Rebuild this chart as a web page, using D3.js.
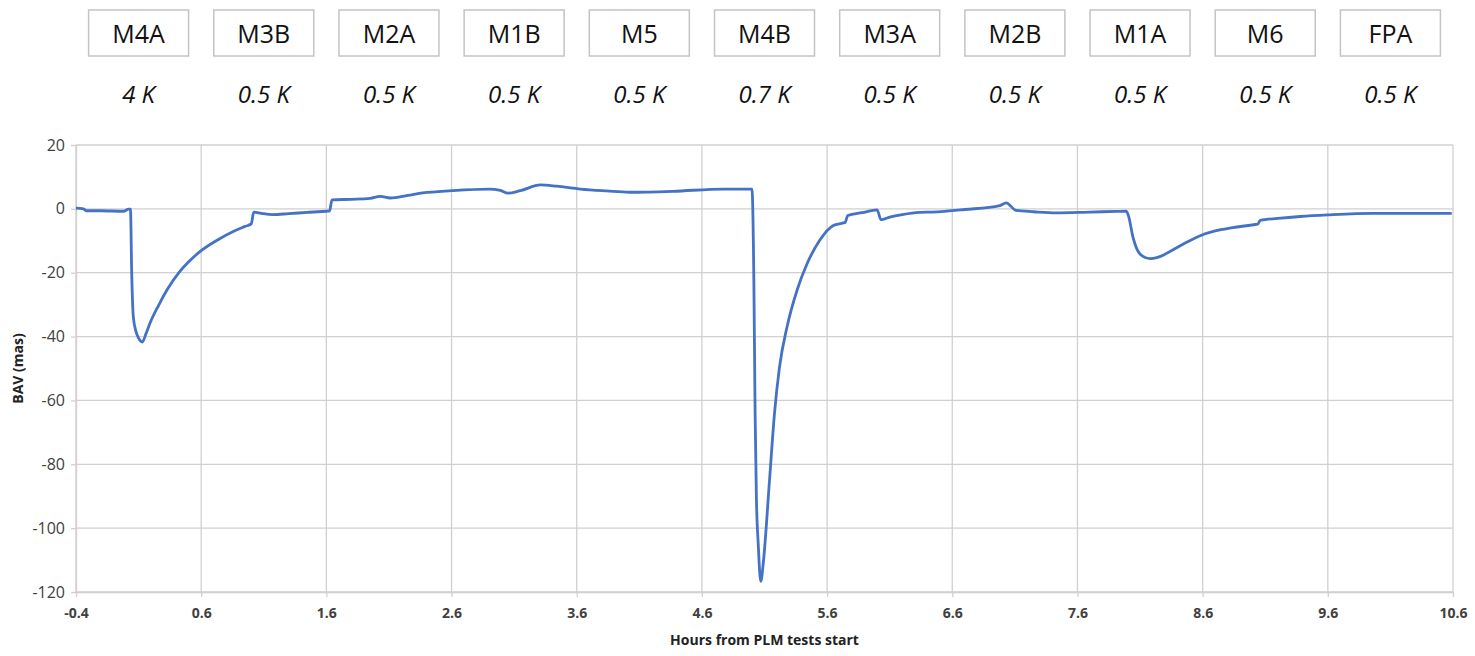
<!DOCTYPE html>
<html>
<head>
<meta charset="utf-8">
<script src="https://cdn.jsdelivr.net/npm/d3@7"></script>
<style>
  html, body { margin: 0; padding: 0; background: #ffffff; }
  svg { display: block; }
</style>
</head>
<body>
<svg id="chart" width="1475" height="656"></svg>
<script>
// ---- data ----
const testNames = ["M4A", "M3B", "M2A", "M1B", "M5", "M4B", "M3A", "M2B", "M1A", "M6", "FPA"];
const testTemps = ["4 K", "0.5 K", "0.5 K", "0.5 K", "0.5 K", "0.7 K", "0.5 K", "0.5 K", "0.5 K", "0.5 K", "0.5 K"];
const testHours = [0.1, 1.1, 2.1, 3.1, 4.1, 5.1, 6.1, 7.1, 8.1, 9.1, 10.1];

const hours = [
  -0.40, -0.34, -0.32, -0.20, -0.02, 0.02, 0.035,
  0.045, 0.058, 0.08, 0.10, 0.13, 0.16, 0.19, 0.26, 0.33, 0.43, 0.50, 0.59, 0.72, 0.86, 0.95, 1.00,
  1.02, 1.08, 1.17, 1.30, 1.45, 1.60, 1.625,
  1.645, 1.80, 1.95, 2.03, 2.11, 2.25, 2.37, 2.60, 2.90, 2.99, 3.05, 3.15, 3.31, 3.44, 3.63, 3.84, 4.02, 4.37, 4.77, 5.00,
  5.015, 5.025, 5.035, 5.05, 5.07, 5.09, 5.14, 5.18, 5.22, 5.28, 5.36, 5.44, 5.54, 5.65, 5.73, 5.745,
  5.765, 5.88, 6.00, 6.03, 6.10, 6.20, 6.34, 6.44, 6.70, 6.98, 7.03, 7.11, 7.25, 7.43, 7.70, 7.91, 7.99,
  8.01, 8.04, 8.08, 8.12, 8.18, 8.24, 8.31, 8.45, 8.58, 8.70, 8.84, 9.02, 9.04,
  9.06, 9.20, 9.38, 9.60, 9.96, 10.30, 10.59
];
const bav = [
  0.2, 0.0, -0.6, -0.6, -0.75, -0.1, -0.1,
  -20, -33.9, -38.5, -40.5, -41.7, -39.0, -35.9, -30.2, -25.2, -19.6, -16.6, -13.4, -10.0, -7.0, -5.5, -4.7,
  -1.0, -1.4, -1.8, -1.5, -1.1, -0.75, -0.7,
  2.8, 3.0, 3.3, 3.9, 3.4, 4.2, 5.0, 5.7, 6.2, 5.8, 4.9, 5.7, 7.5, 7.1, 6.2, 5.6, 5.2, 5.5, 6.2, 6.2,
  -22.4, -64, -90, -105, -116.7, -111, -85, -64, -49.5, -37, -25.5, -17.2, -9.9, -5.2, -4.4, -4.2,
  -2.1, -1.2, -0.3, -3.4, -2.6, -1.8, -1.1, -1.0, -0.2, 1.0, 1.9, -0.5, -0.9, -1.25, -1.0, -0.8, -0.75,
  -2.5, -8.3, -13.0, -14.8, -15.6, -15.2, -14.0, -10.9, -8.4, -6.9, -5.9, -4.9, -4.8,
  -3.6, -3.0, -2.4, -1.9, -1.4, -1.4, -1.4
];

const xTicks = [-0.4, 0.6, 1.6, 2.6, 3.6, 4.6, 5.6, 6.6, 7.6, 8.6, 9.6, 10.6];
const yTicks = [20, 0, -20, -40, -60, -80, -100, -120];

// ---- layout ----
const svg = d3.select("#chart");
const L = 76, R = 1453, T = 145, B = 592;
const x = d3.scaleLinear().domain([-0.4, 10.6]).range([L, R]);
const y = d3.scaleLinear().domain([-120, 20]).range([B, T]);
const font = "'Open Sans', 'Liberation Sans', sans-serif";
const gridColor = "#d0d0d0";

// gridlines
svg.append("g").selectAll("line.h").data(yTicks).join("line")
  .attr("x1", L).attr("x2", R)
  .attr("y1", d => y(d)).attr("y2", d => y(d))
  .attr("stroke", gridColor).attr("stroke-width", 1.3);
svg.append("g").selectAll("line.v").data(xTicks).join("line")
  .attr("y1", T).attr("y2", B)
  .attr("x1", d => x(d)).attr("x2", d => x(d))
  .attr("stroke", gridColor).attr("stroke-width", 1.3);

// axes
const xAxis = svg.append("g").attr("transform", `translate(0,${B})`)
  .call(d3.axisBottom(x).tickValues(xTicks).tickSize(5).tickSizeOuter(0).tickFormat(d3.format(".1f")));
const yAxis = svg.append("g").attr("transform", `translate(${L},0)`)
  .call(d3.axisLeft(y).tickValues(yTicks).tickSize(5).tickSizeOuter(0).tickFormat(d3.format("d")));
[xAxis, yAxis].forEach(g => {
  g.selectAll(".domain").attr("stroke", gridColor).attr("stroke-width", 1.3);
  g.selectAll(".tick line").attr("stroke", gridColor).attr("stroke-width", 1.3);
  g.selectAll("text").attr("fill", "#404040").style("font-family", font);
});
xAxis.selectAll("text").style("font-size", "14px").style("font-weight", "bold").attr("dy", "1.25em");
yAxis.selectAll("text").style("font-size", "16px").attr("x", -11);
yAxis.selectAll(".tick text").text(d => d < 0 ? "-" + Math.abs(d) : d);
xAxis.selectAll(".tick text").text(d => (d < 0 ? "-" : "") + Math.abs(d).toFixed(1));

// axis titles
svg.append("text").attr("x", (L + R) / 2).attr("y", 645)
  .attr("text-anchor", "middle").attr("fill", "#222")
  .style("font-family", font).style("font-size", "14px").style("font-weight", "bold")
  .text("Hours from PLM tests start");
svg.append("text")
  .attr("transform", `translate(23,${(T + B) / 2}) rotate(-90)`)
  .attr("text-anchor", "middle").attr("fill", "#222")
  .style("font-family", font).style("font-size", "14px").style("font-weight", "bold")
  .text("BAV (mas)");

// series
const pts = hours.map((h, i) => [h, bav[i]]);
svg.append("path").datum(pts)
  .attr("fill", "none").attr("stroke", "#4472C4").attr("stroke-width", 2.8)
  .attr("stroke-linejoin", "round")
  .attr("d", d3.line().x(d => x(d[0])).y(d => y(d[1])).curve(d3.curveMonotoneX));

// test boxes
const boxW = 100, boxH = 46;
const g = svg.append("g").selectAll("g").data(testNames).join("g")
  .attr("transform", (d, i) => `translate(${x(testHours[i])},0)`);
g.append("rect").attr("x", -boxW / 2).attr("y", 10).attr("width", boxW).attr("height", boxH)
  .attr("fill", "#fff").attr("stroke", "#c4c4c4").attr("stroke-width", 1.5);
g.append("text").attr("y", 43).attr("text-anchor", "middle").attr("fill", "#111")
  .style("font-family", font).style("font-size", "25px").text(d => d);
g.append("text").attr("y", 103).attr("text-anchor", "middle").attr("fill", "#111")
  .style("font-family", font).style("font-size", "24px").style("font-style", "italic")
  .text((d, i) => testTemps[i]);
</script>
</body>
</html>
